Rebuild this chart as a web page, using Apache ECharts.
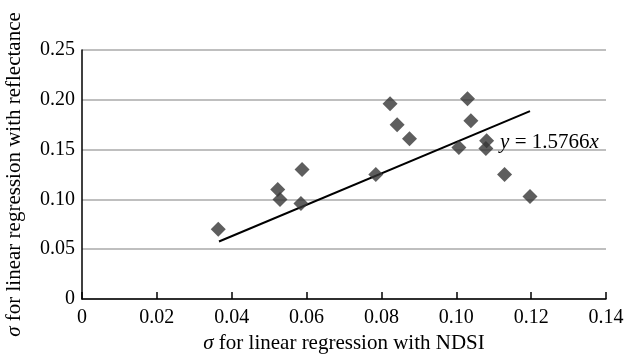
<!DOCTYPE html>
<html>
<head>
<meta charset="utf-8">
<script src="https://cdn.jsdelivr.net/npm/echarts@6/dist/echarts.min.js"></script>
<style>
  html, body { margin: 0; padding: 0; background: #fff; }
  #chart { width: 628px; height: 359px; }
</style>
</head>
<body>
<div id="chart"></div>
<script>
// sigma NDSI (x) vs sigma reflectance (y)
var ndsiSigma = [0.0364, 0.0523, 0.0529, 0.0588, 0.0585, 0.0785, 0.0823, 0.0842, 0.0875,
  0.1007, 0.1030, 0.1039, 0.1081, 0.1079, 0.1129, 0.1197]
var reflSigma = [0.070, 0.110, 0.100, 0.130, 0.096, 0.125, 0.196, 0.175, 0.161,
  0.152, 0.201, 0.179, 0.159, 0.151, 0.125, 0.103]
// fitted line y = 1.5766x, drawn between the end points
var fitX = [0.0366, 0.1197]
var fitY = [0.0577, 0.1887]
var fitLabelAt = [0.1117, 0.1567]

var serif = '"Liberation Serif", "Times New Roman", serif'
var italic = { fontStyle: 'italic', fontFamily: serif, fontSize: 21, color: '#000' }

function fmt(v) {
  return v === 0 ? '0' : v.toFixed(2)
}

var chart = echarts.init(document.getElementById('chart'))
chart.setOption({
  animation: false,
  backgroundColor: '#fff',
  grid: {
    left: 82,
    right: 22,
    top: 50,
    bottom: 60,
    outerBoundsMode: 'none',
    containLabel: false
  },
  xAxis: {
    type: 'value',
    min: 0,
    max: 0.14,
    interval: 0.02,
    name: '{i|σ} for linear regression with NDSI',
    nameLocation: 'middle',
    nameGap: 28,
    nameTextStyle: { fontFamily: serif, fontSize: 21, color: '#000', rich: { i: italic } },
    axisLine: { lineStyle: { color: '#000', width: 1.5 } },
    axisTick: { show: true, inside: true, length: 7, lineStyle: { color: '#000', width: 1.5 } },
    axisLabel: { formatter: fmt, fontFamily: serif, fontSize: 20, color: '#000', margin: 9 },
    splitLine: { show: false }
  },
  yAxis: {
    type: 'value',
    min: 0,
    max: 0.25,
    interval: 0.05,
    name: '{i|σ} for linear regression with reflectance',
    nameLocation: 'middle',
    nameGap: 57,
    nameTextStyle: { fontFamily: serif, fontSize: 21, color: '#000', rich: { i: italic } },
    axisLine: { show: true, lineStyle: { color: '#000', width: 1.5 } },
    axisTick: { show: false },
    axisLabel: { formatter: fmt, fontFamily: serif, fontSize: 20, color: '#000', margin: 7 },
    splitLine: { show: true, lineStyle: { color: '#aaaaaa', width: 1.5 } }
  },
  series: [
    {
      type: 'scatter',
      symbol: 'diamond',
      symbolSize: 15,
      itemStyle: { color: '#363636' },
      data: ndsiSigma.map(function (x, i) { return [x, reflSigma[i]] }),
      z: 3
    },
    {
      type: 'line',
      symbol: 'none',
      lineStyle: { color: '#000', width: 2 },
      data: fitX.map(function (x, i) { return [x, fitY[i]] }),
      markPoint: {
        symbol: 'circle',
        symbolSize: 0,
        data: [{ coord: fitLabelAt }],
        label: {
          show: true,
          position: 'right',
          distance: 0,
          formatter: '{i|y} = 1.5766{i|x}',
          fontFamily: serif,
          fontSize: 21,
          color: '#000',
          rich: { i: italic }
        }
      },
      z: 2
    }
  ]
})
</script>
</body>
</html>
